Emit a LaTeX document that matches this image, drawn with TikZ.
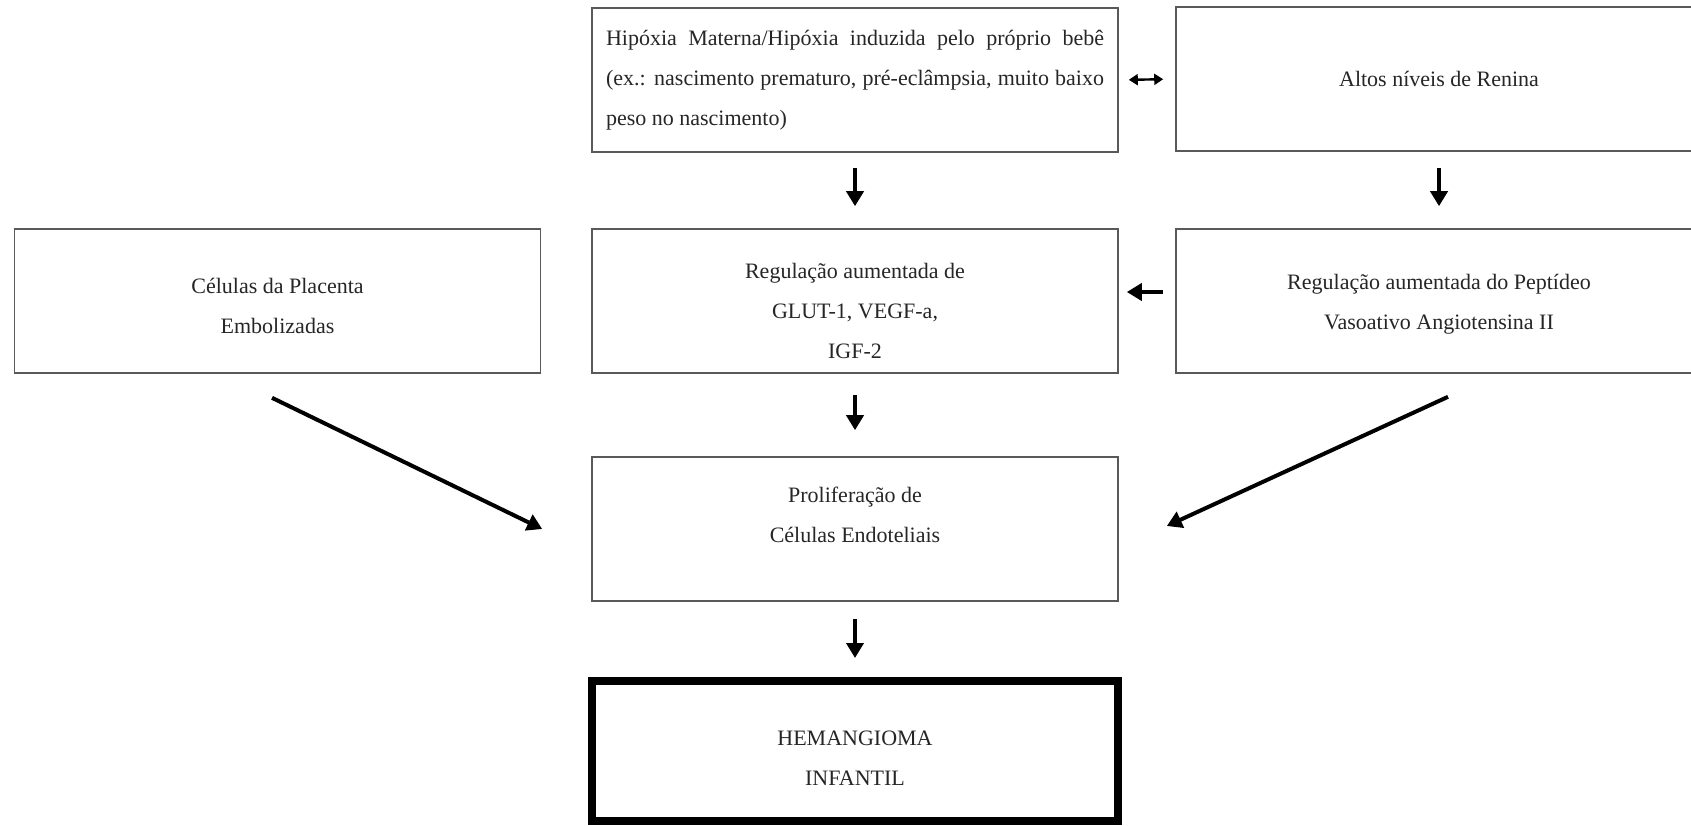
\documentclass[tikz,border=0pt]{standalone}
\usepackage{fontspec}
\setmainfont{Liberation Serif}
\usetikzlibrary{arrows.meta}

\tikzset{
    caixa/.style={draw=black!65, line width=0.8pt, minimum width=263pt, minimum height=72pt,
        inner sep=0pt, align=center, font=\fontsize{11}{20}\selectfont, text=black!85},
    seta/.style={line width=2pt, -{Triangle[width=8.5pt,length=7.5pt]}},
    setadupla/.style={line width=1.2pt, {Triangle[width=5.5pt,length=4.5pt]}-{Triangle[width=5.5pt,length=4.5pt]}},
}

\begin{document}
\begin{tikzpicture}[x=0.5pt, y=-0.5pt]
    \fill[white] (0, 0) rectangle (1691, 825);
    \useasboundingbox (0, 0) rectangle (1691, 825);

    \node[caixa, text width=249pt, align=justify] (hipoxia) at (855, 80) {Hipóxia Materna/Hipóxia induzida pelo próprio bebê\linebreak (ex.: nascimento prematuro, pré-eclâmpsia, muito baixo\linebreak peso no nascimento)};
    \node[caixa] (renina) at (1439, 79) {Altos níveis de Renina};

    \node[caixa] (placenta) at (277.5, 301) {\rule{0pt}{12.5pt}Células da Placenta\\Embolizadas};
    \node[caixa] (glut) at (855, 301) {\rule{0pt}{17.5pt}Regulação aumentada de\\GLUT-1, VEGF-a,\\IGF-2};
    \node[caixa] (angio) at (1439, 301) {\rule{0pt}{10.5pt}Regulação aumentada do Peptídeo\\Vasoativo Angiotensina II};

    \node[caixa] (prolif) at (855, 529) {Proliferação de\\Células Endoteliais\rule[-14pt]{0pt}{0pt}};
    \node[caixa, draw=black, line width=4pt, minimum height=70pt] (hemangioma) at (855, 751) {\rule{0pt}{14.5pt}HEMANGIOMA\\INFANTIL};

    \draw[setadupla, shorten <=5pt, shorten >=6pt] (hipoxia.east) -- (renina.west);
    \draw[seta, shorten <=7.5pt, shorten >=11pt] (hipoxia.south) -- (glut.north);
    \draw[seta, shorten <=8pt, shorten >=11pt] (renina.south) -- (angio.north);
    \draw[seta, shorten <=6pt, shorten >=4pt] ([yshift=4.5pt]angio.west) -- ([yshift=4.5pt]glut.east);
    \draw[seta, shorten <=10.5pt, shorten >=13pt] (glut.south) -- (prolif.north);
    \draw[seta, shorten <=8.5pt, shorten >=9.5pt] (prolif.south) -- (hemangioma.north);
    \draw[seta] ([shift={(-2.75pt,-12pt)}]placenta.south) -- ([xshift=-24.5pt]prolif.west);
    \draw[seta] ([shift={(4.5pt,-11.5pt)}]angio.south) -- ([shift={(24pt,1.5pt)}]prolif.east);
\end{tikzpicture}
\end{document}
